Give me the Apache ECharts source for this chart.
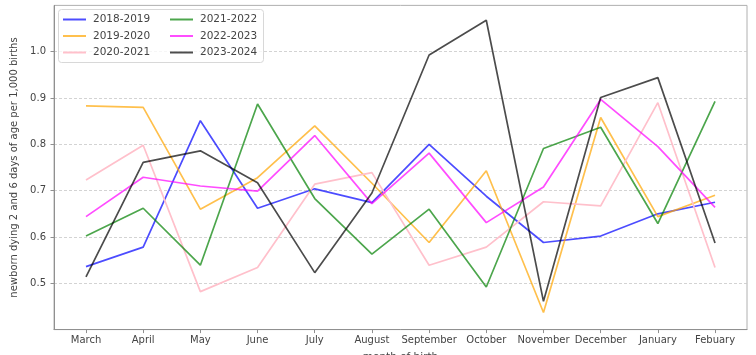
<!DOCTYPE html>
<html>
<head>
<meta charset="utf-8">
<script src="https://cdn.jsdelivr.net/npm/echarts@6/dist/echarts.min.js"></script>
<style>
html,body{margin:0;padding:0;background:#fff;}
#chart{width:756px;height:355px;}
</style>
</head>
<body>
<div id="chart"></div>
<script>
const months = ['March','April','May','June','July','August','September','October','November','December','January','Febuary'];
const seriesNames = ['2018-2019','2019-2020','2020-2021','2021-2022','2022-2023','2023-2024'];
const s2018 = [0.536,0.578,0.851,0.662,0.704,0.674,0.800,0.688,0.588,0.602,0.650,0.675];
const s2019 = [0.883,0.880,0.660,0.728,0.840,0.716,0.588,0.743,0.437,0.858,0.644,0.690];
const s2020 = [0.723,0.798,0.482,0.534,0.714,0.739,0.539,0.578,0.676,0.667,0.890,0.534];
const s2021 = [0.602,0.662,0.539,0.887,0.683,0.563,0.660,0.492,0.791,0.837,0.629,0.893];
const s2022 = [0.644,0.729,0.710,0.699,0.819,0.672,0.781,0.631,0.708,0.897,0.795,0.664];
const s2023 = [0.514,0.761,0.786,0.717,0.523,0.695,0.993,1.068,0.461,0.901,0.944,0.587];
const yTicks = [0.5,0.6,0.7,0.8,0.9,1.0];

const allValues = [s2018,s2019,s2020,s2021,s2022,s2023];
const colors = ['#0000ff','#ffa500','#ffc0cb','#008000','#ff00ff','#000000'];
const opac = [0.7,0.7,1,0.7,0.7,0.7];
const legendColors = ['#4d4dff','#ffc04d','#ffc0cb','#4da64d','#ff4dff','#4d4d4d'];

const chart = echarts.init(document.getElementById('chart'), null, {renderer:'canvas'});
const font = 'DejaVu Sans';
const idx = months.map((m,i)=>i);

const series = allValues.map((vals,k)=>({
  name: seriesNames[k],
  type: 'line',
  data: vals.map((v,i)=>[i,v]),
  showSymbol: false,
  symbol: 'none',
  lineStyle: {color: colors[k], width: 1.7, opacity: opac[k]},
  itemStyle: {color: legendColors[k]},
  animation: false,
  z: 2 + k
}));

const legendCommon = {
  orient: 'vertical',
  icon: 'rect',
  itemWidth: 23,
  itemHeight: 2,
  itemGap: 5.5,
  textStyle: {fontFamily: font, fontSize: 10.5, color: '#444', padding:[0,0,0,2]},
  selectedMode: false
};

chart.setOption({
  animation: false,
  backgroundColor: '#fff',
  grid: {left: 54, right: 9, top: 5.4, bottom: 25.4, show: true, borderColor: '#b0b0b0', borderWidth: 1,
         containLabel: false, outerBoundsMode: 'none'},
  graphic: [{
    type: 'rect', left: 58, top: 9, shape: {width: 205, height: 53, r: 3},
    style: {fill: 'rgba(255,255,255,0.8)', stroke: '#d8d8d8', lineWidth: 1}, z: 50
  }],
  legend: [
    Object.assign({}, legendCommon, {data: seriesNames.slice(0,3), left: 58, top: 9, z: 60}),
    Object.assign({}, legendCommon, {data: seriesNames.slice(3,6), left: 165, top: 9, z: 60})
  ],
  xAxis: {
    type: 'value',
    min: -0.5594,
    max: 11.559,
    name: 'month of birth',
    nameLocation: 'middle',
    nameGap: 22,
    nameTextStyle: {fontFamily: font, fontSize: 10.5, color: '#444'},
    axisLine: {show: true, onZero: false, lineStyle: {color: '#909090', width: 1}},
    axisTick: {show: true, length: 3.5, lineStyle: {color: '#909090'}, customValues: idx},
    axisLabel: {
      customValues: idx,
      margin: 6,
      fontFamily: font, fontSize: 10, color: '#444',
      formatter: v => months[Math.round(v)] || ''
    },
    splitLine: {show: false}
  },
  yAxis: {
    type: 'value',
    min: 0.4,
    max: 1.1,
    interval: 0.1,
    name: 'newborn dying 2 and 6 days of age per 1,000 births',
    nameLocation: 'middle',
    nameGap: 34,
    nameRotate: 90,
    nameTextStyle: {fontFamily: font, fontSize: 10, color: '#444'},
    axisLine: {show: true, onZero: false, lineStyle: {color: '#909090', width: 1}},
    axisTick: {show: true, length: 3.5, lineStyle: {color: '#909090'}, customValues: yTicks},
    axisLabel: {
      customValues: yTicks,
      margin: 8,
      fontFamily: font, fontSize: 10, color: '#444',
      formatter: v => {
        const r = Math.round(v*10)/10;
        return yTicks.some(t => Math.abs(t-r) < 1e-6) ? r.toFixed(1) : '';
      }
    },
    splitLine: {show: true, lineStyle: {color: '#c8c8c8', type: [3,2], width: 0.8}}
  },
  series: series
});
</script>
</body>
</html>
